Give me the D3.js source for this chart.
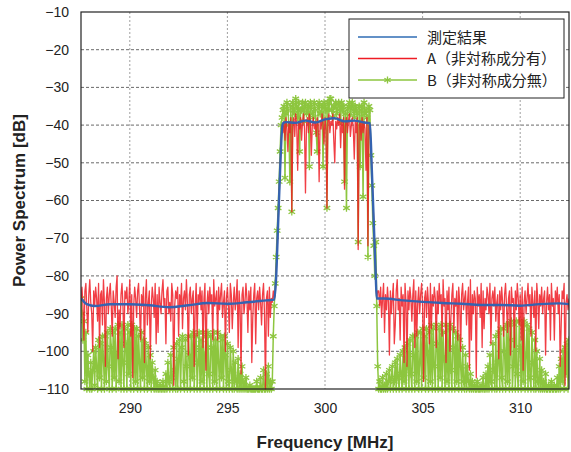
<!DOCTYPE html>
<html>
<head>
<meta charset="utf-8">
<script src="https://cdn.jsdelivr.net/npm/d3@7"></script>
<style>
    body { margin: 0; background: #fff; }
    text { font-family: "Liberation Sans", Arial, sans-serif; fill: #222; }
    .legend text { font-family: "Noto Sans CJK JP", "Noto Sans", sans-serif; }
</style>
</head>
<body>
<div id="chart"></div>
<script>
'use strict';

// sampling of series A and B (MHz)
const freqStart = 287.5;
const freqStep = 0.05;

const xTicks = [290, 295, 300, 305, 310];
const yTicks = [-10, -20, -30, -40, -50, -60, -70, -80, -90, -100, -110];
const seriesNames = ['測定結果', 'A（非対称成分有）', 'B（非対称成分無）'];

// measured spectrum (smooth)
const measFreq = [287.5, 287.8, 288.2, 289, 290, 291, 292, 293, 294, 295, 296, 297, 297.4,
    297.5, 297.6, 297.7, 297.8, 297.85, 298, 298.5, 299, 299.5, 300, 300.5, 301, 301.5, 302,
    302.3, 302.4, 302.5, 302.6, 302.65, 302.8, 303, 304, 305, 306, 307, 308, 309, 310, 311, 312, 312.5];
const measPower = [-86, -87.5, -88, -87.5, -87.5, -87.8, -88.3, -87.8, -87.2, -87.4, -87, -86.5, -86.3,
    -80, -66, -52, -41, -39.5, -39.2, -39.4, -38.8, -39.3, -38.5, -38.2, -39, -38.8, -39.3,
    -39.5, -52, -66, -80, -86, -86, -86, -86.5, -86.9, -87.2, -87.4, -87.7, -87.7, -87.9, -87.5, -87.3, -87.5];

// A (with asymmetric component), 287.5 .. 312.5 step 0.05
const powerA = [
    // 287.50 - 297.25
    -86,-83,-88,-97,-84,-82,-89,-95,-85,-81,-87,-90,-100,-84,
    -88,-83,-86,-92,-82,-99,-85,-84,-93,-81,-87,-104,-86,-83,
    -90,-85,-82,-88,-96,-84,-87,-91,-83,-80,-102,-89,-94,-85,
    -82,-88,-99,-84,-86,-83,-90,-87,-81,-96,-85,-107,-88,-83,
    -86,-91,-84,-82,-89,-97,-85,-88,-83,-103,-86,-81,-93,-87,
    -84,-102,-88,-83,-86,-91,-82,-98,-85,-95,-83,-87,-90,-84,
    -81,-88,-86,-98,-84,-83,-90,-87,-92,-82,-85,-109,-88,-84,
    -86,-83,-96,-85,-88,-82,-94,-86,-84,-89,-81,-87,-101,-85,
    -83,-90,-86,-84,-104,-88,-82,-96,-85,-87,-83,-89,-84,-99,
    -86,-82,-105,-88,-84,-90,-83,-87,-85,-97,-81,-88,-86,-84,
    -97,-83,-89,-85,-82,-91,-87,-84,-100,-86,-83,-88,-95,-82,
    -85,-94,-87,-83,-89,-86,-81,-99,-84,-88,-106,-85,-83,-90,
    -87,-82,-86,-95,-84,-89,-83,-103,-91,-85,-82,-98,-86,-84,
    -89,-83,-87,-93,-85,-82,-90,-110,-86,-84,-96,-83,-91,-86,
    // 297.30 - 297.75
    -87,-84,-86,-85,-79,-73,-66,-59,-52,-45,
    // 297.80 - 302.30
    -40,-42,-39,-44,-38,-41,-47,-39,-42,-38,
    -63,-40,-38,-43,-37,-40,-52,-39,-41,-38,
    -44,-39,-37,-41,-58,-40,-38,-42,-37,-39,
    -48,-40,-38,-41,-39,-43,-38,-40,-55,-39,
    -41,-37,-40,-45,-38,-41,-62,-39,-37,-42,
    -39,-40,-37,-44,-50,-39,-41,-38,-40,-37,
    -46,-39,-42,-38,-57,-40,-38,-42,-39,-37,
    -43,-40,-38,-41,-49,-39,-42,-38,-73,-40,
    -39,-44,-38,-42,-39,-41,-52,-38,-72,-40,
    -41,
    // 302.35 - 302.70
    -45,-52,-59,-66,-73,-80,-86,-84,
    // 302.75 - 312.50
    -84,-88,-83,-91,-86,-82,-95,-85,-89,-83,-87,-101,-84,-90,
    -86,-82,-98,-93,-84,-81,-89,-86,-97,-83,-88,-85,-103,-82,
    -87,-104,-84,-89,-83,-86,-92,-85,-81,-99,-84,-96,-87,-83,
    -90,-85,-82,-88,-108,-86,-84,-91,-83,-87,-98,-82,-94,-85,
    -88,-83,-86,-99,-84,-90,-82,-87,-85,-96,-81,-88,-86,-103,
    -84,-89,-83,-100,-91,-85,-82,-95,-86,-88,-84,-97,-83,-87,
    -100,-85,-82,-89,-86,-84,-93,-87,-83,-105,-81,-97,-85,-90,
    -84,-86,-107,-83,-88,-85,-91,-82,-99,-84,-94,-86,-89,-83,
    -85,-90,-82,-98,-86,-84,-88,-83,-92,-87,-85,-102,-84,-89,
    -83,-87,-96,-85,-82,-88,-95,-86,-84,-101,-83,-87,-86,-99,
    -84,-89,-82,-86,-93,-85,-97,-83,-105,-87,-84,-90,-86,-82,
    -88,-85,-96,-83,-87,-91,-84,-100,-82,-86,-94,-85,-88,-83,
    -90,-86,-84,-101,-87,-83,-89,-85,-97,-82,-88,-86,-97,-84,
    -87,-83,-90,-85,-104,-93,-84,-86,-82,-109,-87,-85,-89,-86
];

// B (without asymmetric component), 287.5 .. 312.5 step 0.05
const powerB = [
    // 287.50 - 297.25
    -86,-90,-97,-92,-108,-95,-110,-101,-106,-110,-103,-110,-105,-100,
    -109,-99,-104,-110,-97,-107,-98,-110,-96,-102,-110,-96,-108,-95,
    -104,-110,-94,-99,-110,-95,-107,-94,-110,-101,-93,-108,-95,-110,
    -93,-103,-110,-94,-98,-110,-93,-106,-95,-110,-93,-100,-110,-94,
    -108,-94,-110,-96,-103,-110,-95,-107,-97,-110,-98,-104,-110,-99,
    -108,-101,-110,-103,-107,-110,-105,-110,-108,-110,-110,-109,-110,-110,
    -108,-110,-110,-106,-110,-103,-108,-110,-101,-107,-110,-99,-105,-110,
    -98,-110,-102,-97,-110,-99,-96,-108,-110,-97,-104,-110,-96,-101,
    -110,-96,-107,-95,-110,-99,-96,-110,-103,-95,-110,-97,-108,-95,
    -110,-101,-96,-110,-95,-106,-110,-96,-99,-110,-95,-108,-97,-110,
    -95,-103,-110,-96,-107,-97,-110,-96,-101,-110,-98,-108,-110,-99,
    -105,-110,-100,-110,-103,-108,-110,-102,-110,-106,-110,-104,-110,-108,
    -110,-107,-110,-110,-110,-109,-110,-110,-110,-110,-110,-110,-108,-110,
    -110,-110,-107,-110,-110,-105,-110,-110,-106,-110,-104,-110,-108,-110,
    // 297.30 - 297.75
    -108,-96,-88,-82,-75,-68,-62,-55,-47,-40,
    // 297.80 - 302.30
    -38,-36,-35,-54,-37,-34,-36,-40,-55,-35,
    -63,-34,-36,-37,-33,-35,-38,-34,-47,-36,
    -36,-34,-39,-35,-34,-37,-36,-35,-51,-34,
    -35,-37,-38,-34,-36,-42,-47,-35,-34,-37,
    -37,-35,-51,-34,-35,-36,-62,-34,-36,-33,
    -33,-36,-38,-35,-35,-34,-37,-36,-34,-35,
    -39,-34,-36,-35,-55,-37,-62,-36,-35,-34,
    -37,-35,-34,-36,-38,-35,-36,-37,-71,-35,
    -51,-36,-35,-59,-34,-37,-36,-38,-75,-35,
    -36,
    // 302.35 - 302.70
    -48,-56,-66,-72,-80,-71,-88,-104,
    // 302.75 - 312.50
    -110,-108,-110,-110,-107,-110,-109,-110,-106,-110,-108,-105,-110,-107,
    -104,-110,-108,-103,-110,-102,-107,-110,-101,-106,-110,-100,-108,-99,
    -110,-104,-98,-110,-97,-106,-110,-96,-101,-110,-96,-108,-95,-110,
    -103,-95,-110,-94,-107,-96,-110,-94,-100,-110,-95,-108,-93,-110,
    -94,-104,-110,-93,-98,-110,-94,-107,-93,-110,-95,-102,-110,-93,
    -108,-94,-110,-93,-105,-110,-94,-99,-110,-95,-108,-96,-110,-97,
    -104,-110,-99,-108,-110,-101,-110,-104,-108,-110,-106,-110,-108,-110,
    -109,-110,-110,-108,-110,-110,-110,-109,-110,-107,-110,-110,-106,-110,
    -104,-110,-101,-108,-110,-98,-105,-110,-96,-110,-103,-95,-110,-94,
    -107,-110,-94,-100,-110,-93,-108,-93,-110,-97,-92,-110,-104,-93,
    -110,-92,-106,-110,-92,-99,-110,-93,-108,-92,-110,-101,-93,-110,
    -94,-107,-110,-95,-103,-110,-97,-110,-100,-108,-110,-102,-110,-105,
    -110,-108,-110,-106,-110,-110,-109,-110,-110,-108,-110,-110,-109,-110,
    -110,-107,-110,-104,-110,-102,-108,-100,-110,-99,-106,-98,-110,-97
];

const colBlue = '#3563b0', colRed = '#ee1c24', colGreen = '#8dc63f';

const W = 571, H = 452;
const margin = { top: 12, right: 2, bottom: 63, left: 81 };
const width = W - margin.left - margin.right;
const height = H - margin.top - margin.bottom;

const svg = d3.select('#chart').append('svg')
    .attr('width', W).attr('height', H)
    .append('g')
    .attr('transform', 'translate(' + margin.left + ',' + margin.top + ')');

const x = d3.scaleLinear().domain([287.5, 312.5]).range([0, width]);
const y = d3.scaleLinear().domain([-110, -10]).range([height, 0]);

// grid
svg.append('g').selectAll('line.vg')
    .data(xTicks).enter().append('line')
    .attr('x1', d => x(d)).attr('x2', d => x(d))
    .attr('y1', 0).attr('y2', height)
    .attr('stroke', '#888').attr('stroke-width', 0.8).attr('stroke-dasharray', '2,2');
svg.append('g').selectAll('line.hg')
    .data(yTicks.slice(1, -1)).enter().append('line')
    .attr('x1', 0).attr('x2', width)
    .attr('y1', d => y(d)).attr('y2', d => y(d))
    .attr('stroke', '#444').attr('stroke-width', 0.8).attr('stroke-dasharray', '3,2');

svg.append('clipPath').attr('id', 'plotclip')
    .append('rect').attr('x', 0).attr('y', -4).attr('width', width).attr('height', height + 8);

const samples = (vals) => vals.map((v, i) => ({ f: freqStart + i * freqStep, p: v }));
const line = d3.line().x(d => x(d.f)).y(d => y(d.p));

const dataA = samples(powerA);
const dataB = samples(powerB);
const dataM = measFreq.map((f, i) => ({ f: f, p: measPower[i] }));

const plot = svg.append('g').attr('clip-path', 'url(#plotclip)');

// B
plot.append('path').datum(dataB)
    .attr('d', line).attr('fill', 'none')
    .attr('stroke', colGreen).attr('stroke-width', 1.5).attr('stroke-linejoin', 'round');
const star = d3.symbol().type(d3.symbolAsterisk).size(40);
plot.append('g').selectAll('path')
    .data(dataB).enter().append('path')
    .attr('d', star)
    .attr('transform', d => 'translate(' + x(d.f) + ',' + y(d.p) + ')')
    .attr('fill', 'none').attr('stroke', colGreen).attr('stroke-width', 1.3);

// A
plot.append('path').datum(dataA)
    .attr('d', line).attr('fill', 'none')
    .attr('stroke', colRed).attr('stroke-width', 1.3).attr('stroke-opacity', 0.85)
    .attr('stroke-linejoin', 'round');

// measured
plot.append('path').datum(dataM)
    .attr('d', d3.line().x(d => x(d.f)).y(d => y(d.p)).curve(d3.curveMonotoneX))
    .attr('fill', 'none')
    .attr('stroke', colBlue).attr('stroke-width', 2.4);

// frame
svg.append('rect').attr('x', 0).attr('y', 0).attr('width', width).attr('height', height)
    .attr('fill', 'none').attr('stroke', '#222').attr('stroke-width', 1.2);

// axes
const xAxis = svg.append('g').attr('transform', 'translate(0,' + height + ')')
    .call(d3.axisBottom(x).tickValues(xTicks).tickSize(0).tickPadding(14));
const yAxis = svg.append('g')
    .call(d3.axisLeft(y).tickValues(yTicks).tickSize(0).tickPadding(12));
[xAxis, yAxis].forEach(a => {
    a.select('.domain').remove();
    a.selectAll('text').style('font-size', '14px').style('fill', '#222');
});

svg.append('text')
    .attr('x', width / 2).attr('y', height + 59)
    .attr('text-anchor', 'middle')
    .style('font-size', '17px').style('font-weight', 'bold')
    .text('Frequency [MHz]');
svg.append('text')
    .attr('transform', 'translate(' + (-56) + ',' + (height / 2) + ') rotate(-90)')
    .attr('text-anchor', 'middle')
    .style('font-size', '17px').style('font-weight', 'bold')
    .text('Power Spectrum [dB]');

// legend
const legend = svg.append('g').attr('class', 'legend')
    .attr('transform', 'translate(' + (349 - margin.left) + ',' + (19 - margin.top) + ')');
legend.append('rect').attr('width', 215).attr('height', 79)
    .attr('fill', '#fff').attr('stroke', '#222').attr('stroke-width', 1);
const legendCols = ['#2f6cb5', colRed, colGreen];
seriesNames.forEach((name, i) => {
    const ly = 18 + i * 21.5;
    legend.append('line').attr('x1', 9).attr('x2', 68).attr('y1', ly).attr('y2', ly)
        .attr('stroke', legendCols[i]).attr('stroke-width', i === 2 ? 1.6 : 1.4);
    if (i === 2) {
        legend.append('path').attr('d', d3.symbol().type(d3.symbolAsterisk).size(36))
            .attr('transform', 'translate(' + 38.5 + ',' + ly + ')')
            .attr('fill', 'none').attr('stroke', colGreen).attr('stroke-width', 1.3);
    }
    legend.append('text').attr('x', 78).attr('y', ly + 5.5)
        .style('font-size', '15px').text(name);
});
</script>
</body>
</html>
